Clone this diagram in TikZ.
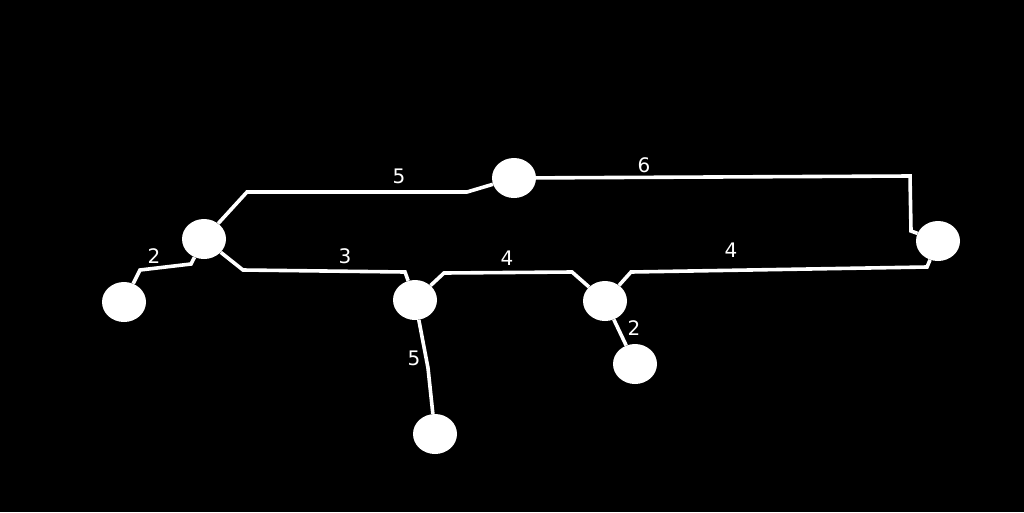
\documentclass[tikz,border=0pt]{standalone}
\usepackage{fontspec}
\setmainfont{DejaVu Sans}
\usetikzlibrary{shapes.geometric}
\begin{document}
\begin{tikzpicture}[x=1pt,y=-1pt,
  vert/.style={ellipse,fill=white,draw=none,minimum width=44pt,minimum height=40pt,inner sep=0pt},
  edge/.style={draw=white,line width=3.6pt,line join=miter},
  lab/.style={text=white,font=\fontsize{20}{24}\selectfont,inner sep=0pt}]
\fill[black] (0,0) rectangle (1024,512);
\useasboundingbox (0,0) rectangle (1024,512);
\node[vert] (A) at (204,239) {};
\node[vert] (B) at (124,302) {};
\node[vert] (C) at (514,178) {};
\node[vert] (D) at (415,300) {};
\node[vert] (E) at (605,301) {};
\node[vert] (F) at (938,241) {};
\node[vert] (G) at (635,364) {};
\node[vert] (H) at (435,434) {};
\coordinate (ac1) at (247,192); \coordinate (ac2) at (467,192);
\coordinate (cf1) at (910,176); \coordinate (cf2) at (911,231);
\coordinate (ab1) at (191,264); \coordinate (ab2) at (140,270);
\coordinate (ad1) at (243,270); \coordinate (ad2) at (405,272);
\coordinate (de1) at (444,273); \coordinate (de2) at (572,272);
\coordinate (ef1) at (631,272); \coordinate (ef2) at (927,267);
\coordinate (dh1) at (428,368);
\draw[edge] (A) -- (ac1) -- (ac2) -- (C);
\draw[edge] (C) -- (cf1) -- (cf2) -- (F);
\draw[edge] (A) -- (ab1) -- (ab2) -- (B);
\draw[edge] (A) -- (ad1) -- (ad2) -- (D);
\draw[edge] (D) -- (de1) -- (de2) -- (E);
\draw[edge] (E) -- (ef1) -- (ef2) -- (F);
\draw[edge] (E) -- (G);
\draw[edge] (D) -- (dh1) -- (H);
\node[lab] (l1) at (399,176) {5};
\node[lab] (l2) at (644,165) {6};
\node[lab] (l3) at (154,256) {2};
\node[lab] (l4) at (345,256) {3};
\node[lab] (l5) at (507,258) {4};
\node[lab] (l6) at (731,250) {4};
\node[lab] (l7) at (634,328) {2};
\node[lab] (l8) at (414,358) {5};
\end{tikzpicture}
\end{document}
